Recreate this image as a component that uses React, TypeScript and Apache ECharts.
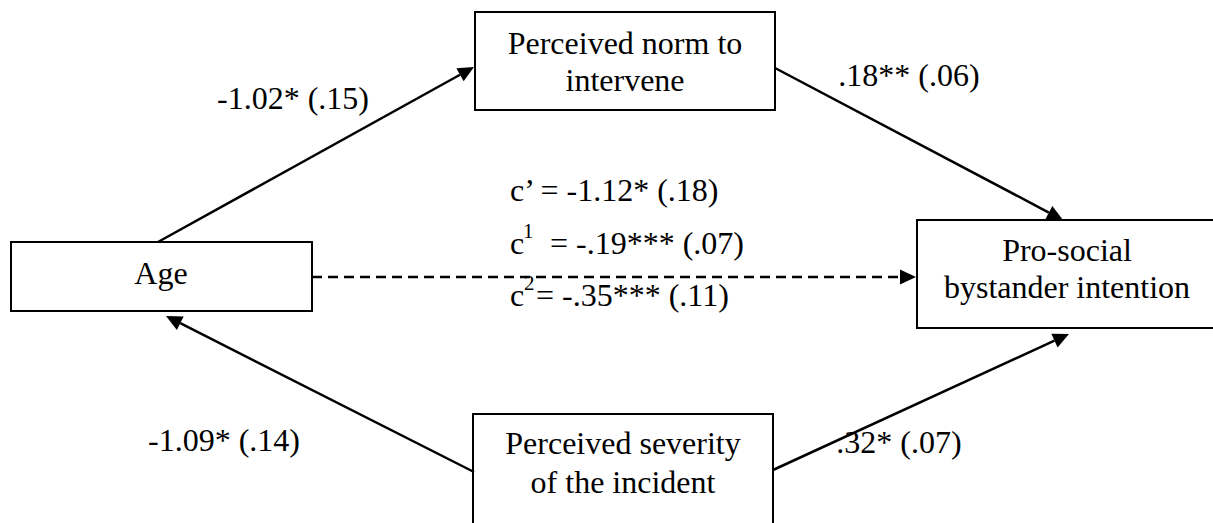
import React, { useEffect, useRef } from "react";
import * as echarts from "echarts";

// ---- Content (data) ----
const nodeNames = ["age", "norm", "pro", "sev"];
const nodeLabels: string[][] = [
  ["Age"],
  ["Perceived norm to", "intervene"],
  ["Pro-social", "bystander intention"],
  ["Perceived severity", "of the incident"],
];
const pathCoefficients = ["-1.02* (.15)", ".18** (.06)", "-1.09* (.14)", ".32* (.07)"];
const directLabels = ["c’ = -1.12* (.18)", "= -.19*** (.07)", "= -.35*** (.11)"];
const directSupers = ["", "1", "2"];
const edgeFrom = ["age", "norm", "age", "sev", "sev"];
const edgeTo = ["norm", "pro", "pro", "age", "pro"];
const edgeDashed = [false, false, true, false, false];

// ---- Layout (positions / sizes) ----
const boxRects: number[][] = [
  [11, 242, 301, 69],
  [475, 12, 300, 98],
  [917, 220, 320, 108],
  [473, 414, 300, 140],
];
const labelCenters: number[][][] = [
  [[161, 273]],
  [[625, 43], [625, 80]],
  [[1067, 250], [1067, 287]],
  [[623, 443], [623, 482]],
];
const edgeStart: number[][] = [
  [158, 242],
  [775, 68],
  [312, 277],
  [474, 472],
  [773, 470],
];
const edgeEnd: number[][] = [
  [474, 67],
  [1063, 220],
  [916, 277],
  [166, 316],
  [1069, 334],
];
const coefPos: number[][] = [
  [293, 98],
  [909, 75],
  [224, 440],
  [899, 442],
];
const directRows: { cx: number; supX: number; restX: number; y: number }[] = [
  { cx: 510, supX: 0, restX: 0, y: 190 },
  { cx: 510, supX: 523, restX: 550, y: 243 },
  { cx: 510, supX: 524, restX: 536, y: 295 },
];

const FONT = "'Liberation Serif', 'Times New Roman', serif";
const FS = 32;

function arrowHead(s: number[], e: number[], len = 16, half = 7.5) {
  const dx = e[0] - s[0];
  const dy = e[1] - s[1];
  const d = Math.sqrt(dx * dx + dy * dy);
  const ux = dx / d;
  const uy = dy / d;
  const bx = e[0] - ux * len;
  const by = e[1] - uy * len;
  return {
    base: [bx, by],
    points: [
      [e[0], e[1]],
      [bx - uy * half, by + ux * half],
      [bx + uy * half, by - ux * half],
    ],
  };
}

function txt(t: string, x: number, y: number, align: string, size = FS) {
  return {
    type: "text",
    x,
    y,
    style: {
      text: t,
      fontFamily: FONT,
      fontSize: size,
      fill: "#000",
      textAlign: align,
      textVerticalAlign: "middle",
    },
  };
}

export default function App() {
  const ref = useRef<HTMLDivElement>(null);
  useEffect(() => {
    if (!ref.current) return;
    const chart = echarts.init(ref.current, null, { renderer: "svg" });
    const elements: any[] = [];

    // boxes
    nodeNames.forEach((_, i) => {
      const [x, y, w, h] = boxRects[i];
      elements.push({
        type: "rect",
        shape: { x, y, width: w, height: h },
        style: { fill: "#fff", stroke: "#000", lineWidth: 2 },
      });
      nodeLabels[i].forEach((t, j) => {
        const [cx, cy] = labelCenters[i][j];
        elements.push(txt(t, cx, cy, "center"));
      });
    });

    // edges
    edgeFrom.forEach((_, i) => {
      const s = edgeStart[i];
      const e = edgeEnd[i];
      const ah = arrowHead(s, e);
      elements.push({
        type: "line",
        shape: { x1: s[0], y1: s[1], x2: ah.base[0], y2: ah.base[1] },
        style: {
          stroke: "#000",
          lineWidth: 2.5,
          lineDash: edgeDashed[i] ? [10, 6] : null,
        },
      });
      elements.push({
        type: "polygon",
        shape: { points: ah.points },
        style: { fill: "#000" },
      });
    });

    // path coefficients
    pathCoefficients.forEach((t, i) => {
      elements.push(txt(t, coefPos[i][0], coefPos[i][1], "center"));
    });

    // direct effects
    directLabels.forEach((t, i) => {
      const row = directRows[i];
      if (!directSupers[i]) {
        elements.push(txt(t, row.cx, row.y, "left"));
      } else {
        elements.push(txt("c", row.cx, row.y, "left"));
        elements.push(txt(directSupers[i], row.supX, row.y - 12, "left", 21));
        elements.push(txt(t, row.restX, row.y, "left"));
      }
    });

    chart.setOption({
      animation: false,
      backgroundColor: "#fff",
      graphic: { elements },
    });
    return () => chart.dispose();
  }, []);
  return (
    <div
      ref={ref}
      style={{ position: "fixed", left: 0, top: 0, width: 1213, height: 523 }}
    />
  );
}
